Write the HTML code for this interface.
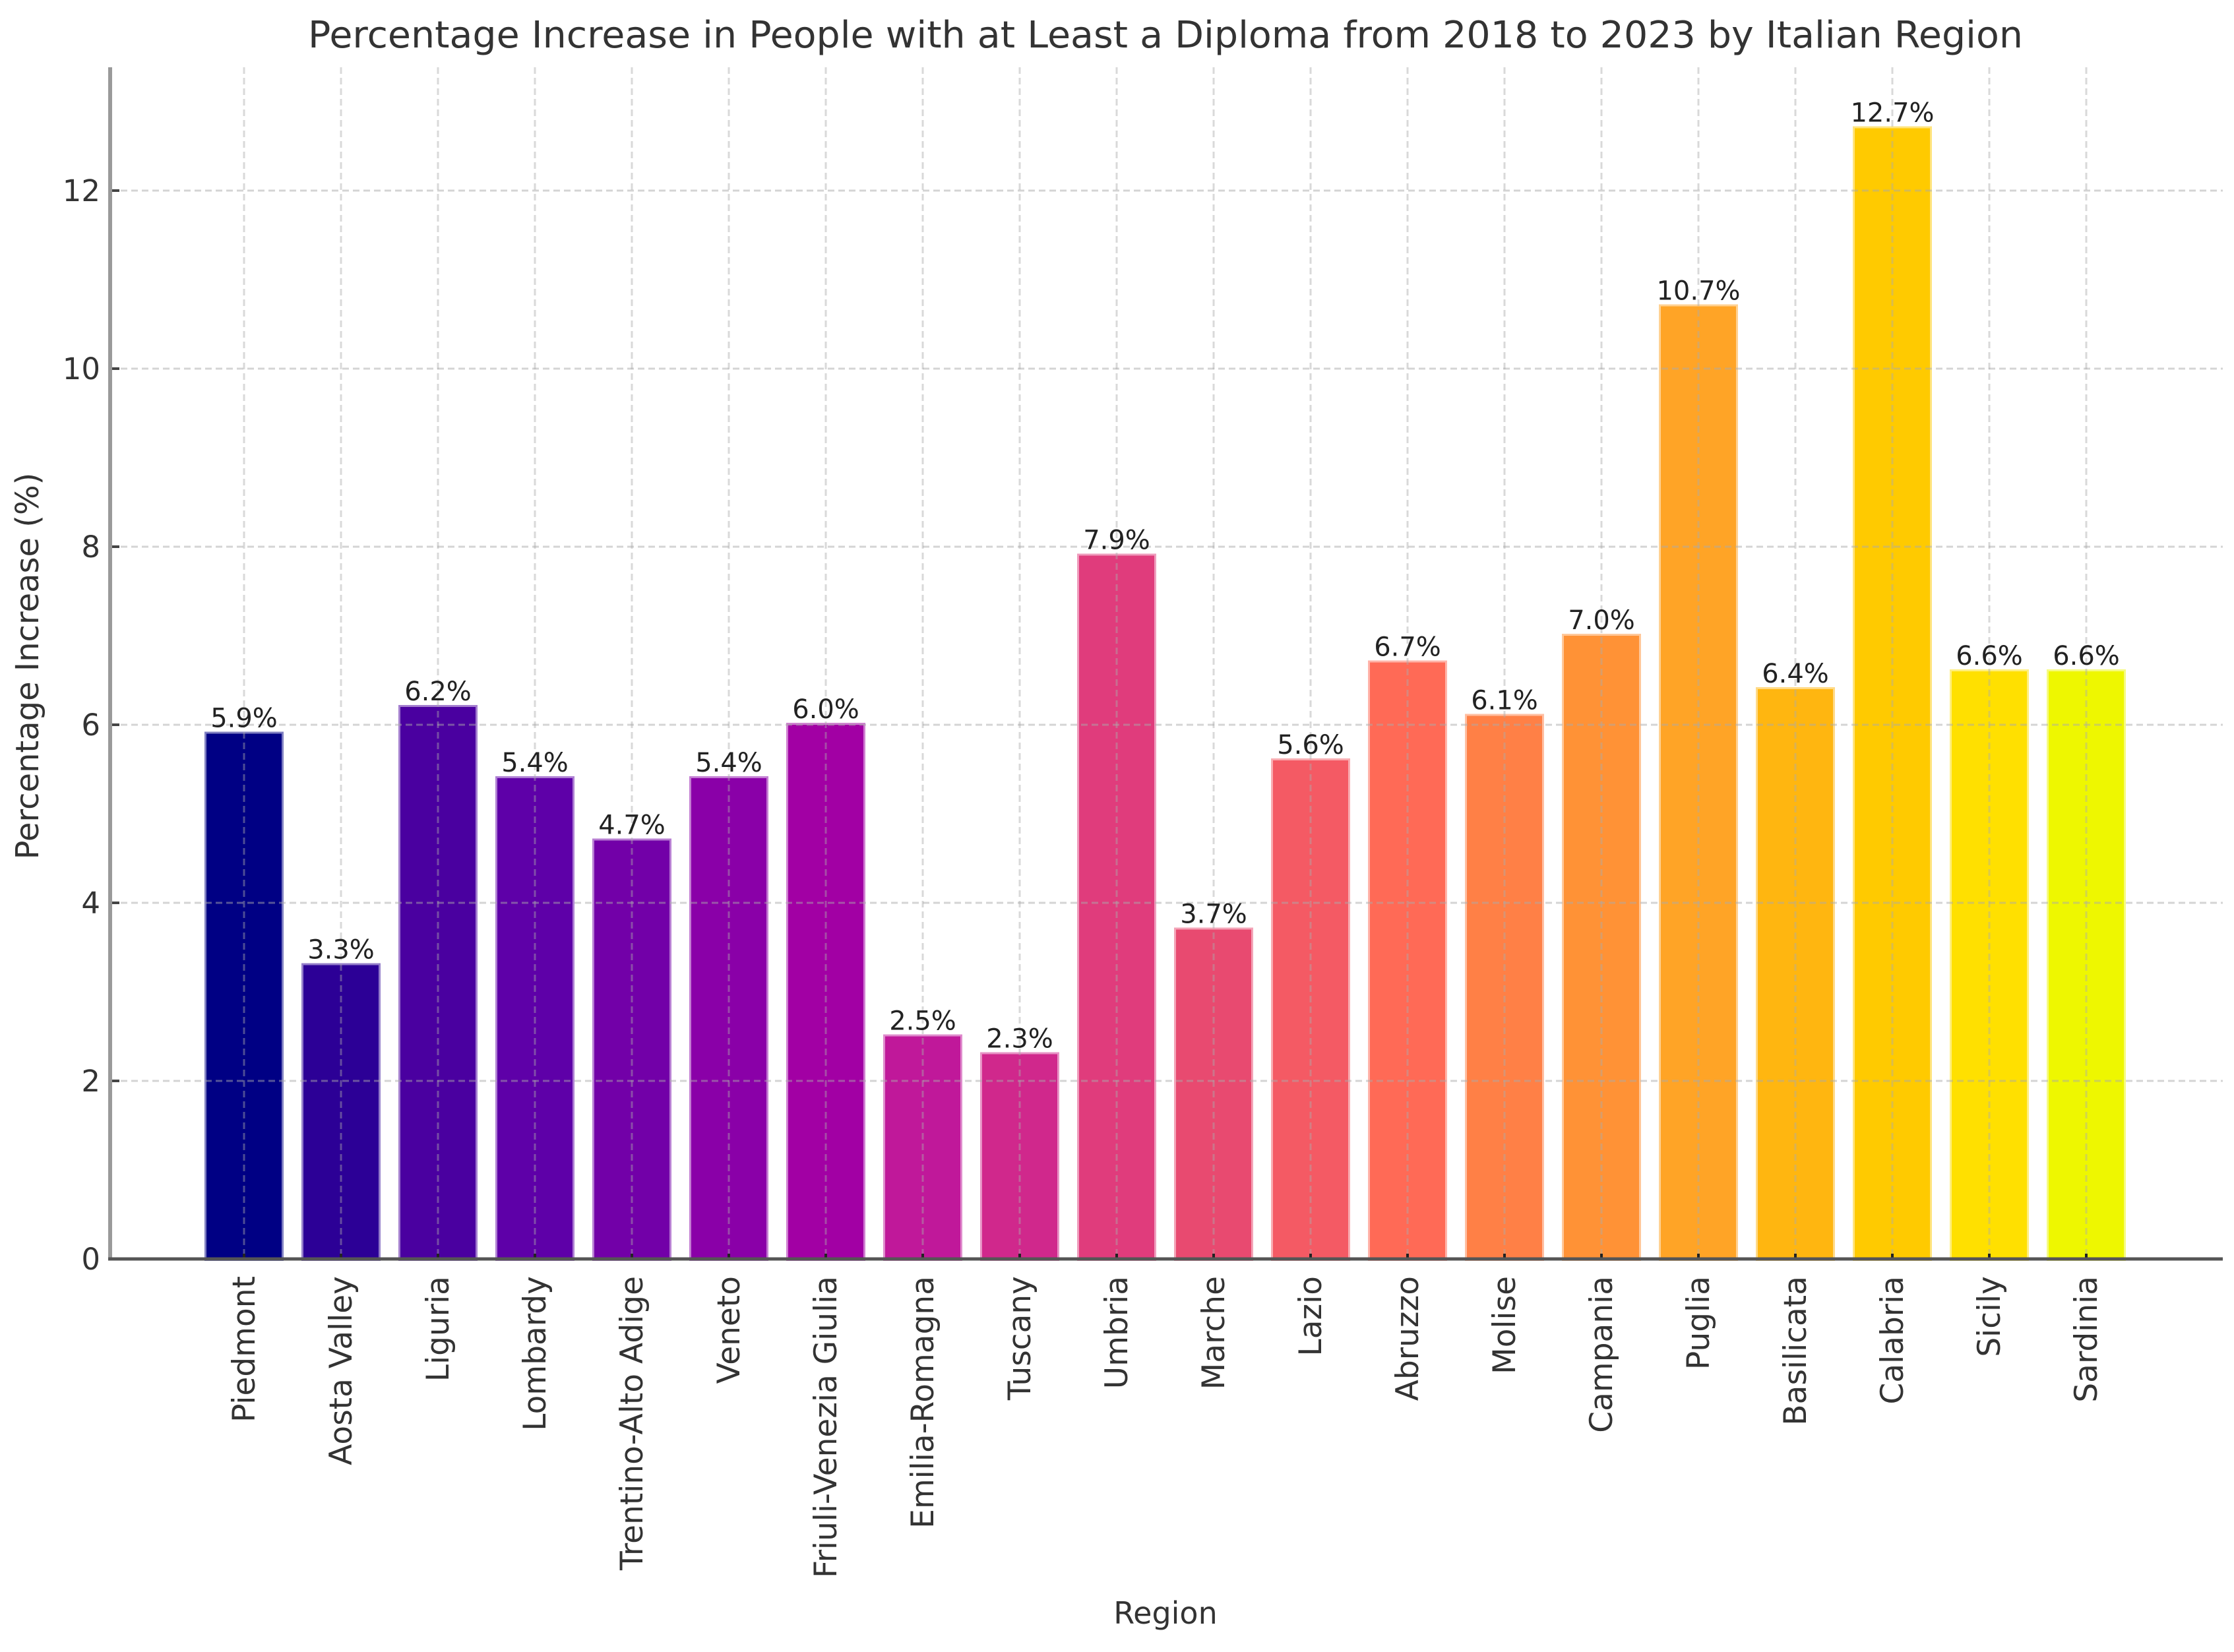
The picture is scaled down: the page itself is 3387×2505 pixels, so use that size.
<!DOCTYPE html>
<html><head><meta charset="utf-8"><style>
html,body{margin:0;padding:0;background:#fff;}
svg{display:block;font-family:"DejaVu Sans","Liberation Sans",sans-serif;}
</style></head><body>
<svg id="chart" width="3387" height="2505" viewBox="0 0 3387 2505" xmlns="http://www.w3.org/2000/svg">
<rect width="3387" height="2505" fill="#fff"/>
<text x="1767" y="72" font-size="56" fill="#333" text-anchor="middle" textLength="2600" lengthAdjust="spacingAndGlyphs">Percentage Increase in People with at Least a Diploma from 2018 to 2023 by Italian Region</text>
<text x="1767" y="2462" font-size="46" fill="#333" text-anchor="middle">Region</text>
<text transform="translate(58,1010) rotate(-90)" font-size="48" fill="#333" text-anchor="middle">Percentage Increase (%)</text>
<g id="bars"></g><g id="grid"></g><g id="axes"></g><g id="labels"></g>
</svg>
<script>
const categories = ["Piedmont","Aosta Valley","Liguria","Lombardy","Trentino-Alto Adige","Veneto","Friuli-Venezia Giulia","Emilia-Romagna","Tuscany","Umbria","Marche","Lazio","Abruzzo","Molise","Campania","Puglia","Basilicata","Calabria","Sicily","Sardinia"];
const values = [5.9,3.3,6.2,5.4,4.7,5.4,6.0,2.5,2.3,7.9,3.7,5.6,6.7,6.1,7.0,10.7,6.4,12.7,6.6,6.6];
const colors = ["#000084","#2c0096","#4a00a0","#5e00a8","#7200a8","#8a00a8","#a200a4","#c0189a","#d0288c","#e03c7c","#e84a70","#f45a64","#ff6a56","#ff8046","#ff9236","#ffa426","#ffb610","#ffca00","#ffe000","#eef700"];
const yTicks = [0,2,4,6,8,10,12];

const NS="http://www.w3.org/2000/svg";
const X0=167, X1=3370, Y0=1909, YT=102, firstC=370, step=147, barW=114, perUnit=135;
function xPos(i){return firstC+i*step;}
function yPos(v){return Y0-v*perUnit;}
function mk(tag,attrs,parent){const e=document.createElementNS(NS,tag);for(const k in attrs)e.setAttribute(k,attrs[k]);parent.appendChild(e);return e;}
const gB=document.getElementById('bars'),gG=document.getElementById('grid'),gA=document.getElementById('axes'),gL=document.getElementById('labels');

categories.forEach((c,i)=>{
  const cx=xPos(i), y=yPos(values[i]);
  const r=mk('rect',{x:cx-barW/2,y:y,width:barW,height:Y0-y,fill:colors[i],stroke:colors[i],'stroke-opacity':0.5,'stroke-width':6},gB);
  
  
  const t=mk('text',{x:cx,y:y-10,'font-size':40,fill:'#222','text-anchor':'middle'},gL);
  t.textContent=values[i].toFixed(1)+'%';
  
  
  const xl=mk('text',{transform:`translate(${cx+16},1935) rotate(-90)`,'font-size':47,fill:'#333','text-anchor':'end'},gL);
  xl.textContent=c;
  
  
  const vg=mk('line',{x1:cx,x2:cx,y1:YT,y2:Y0,stroke:'#aaa','stroke-opacity':0.45,'stroke-width':3,'stroke-dasharray':'10,6'},gG);
  
  
  const tk=mk('line',{x1:cx,x2:cx,y1:Y0-8,y2:Y0,stroke:'#222','stroke-width':4},gA);
  
  
});
yTicks.forEach(v=>{
  const y=yPos(v);
  if(v>0){
    const hg=mk('line',{x1:X0,x2:X1,y1:y,y2:y,stroke:'#aaa','stroke-opacity':0.5,'stroke-width':3,'stroke-dasharray':'10,6'},gG);
    
    
  }
  const tk=mk('line',{x1:X0,x2:X0+14,y1:y,y2:y,stroke:'#444','stroke-width':4},gA);
  
  
  const t=mk('text',{x:152,y:y+16,'font-size':45,fill:'#333','text-anchor':'end'},gL);
  t.textContent=v;
  
  
});
const la=mk('line',{x1:X0,x2:X0,y1:YT,y2:Y0+2,stroke:'#9a9a9a','stroke-width':6},gA);


const ba=mk('line',{x1:X0-3,x2:X1,y1:Y0,y2:Y0,stroke:'#555','stroke-width':5},gA);


</script>
</body></html>
